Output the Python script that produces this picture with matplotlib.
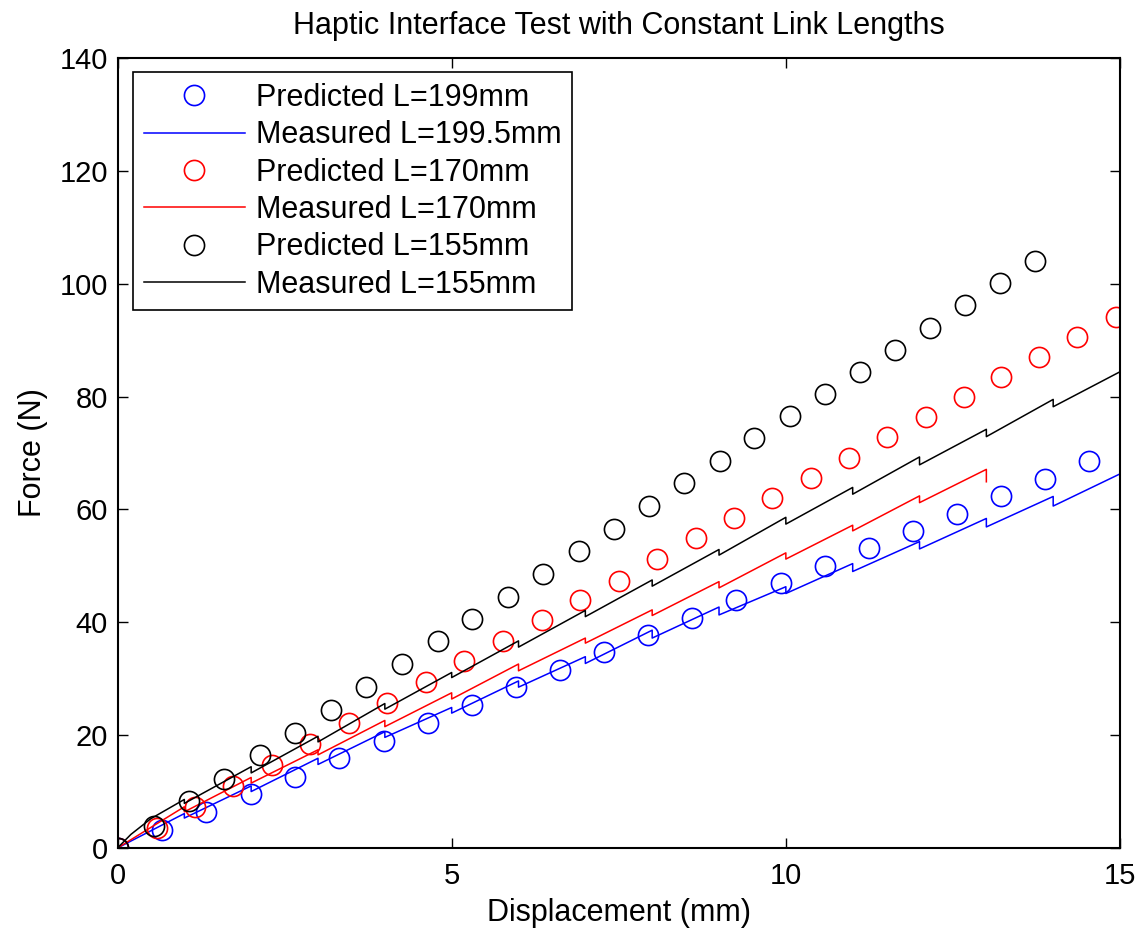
import matplotlib
matplotlib.use('Agg')
import matplotlib.pyplot as plt

plt.rcParams['font.family'] = ['Liberation Sans', 'DejaVu Sans']

# predicted points
pred_x_199 = [0, 0.66, 1.33, 2.00, 2.66, 3.32, 3.98, 4.64, 5.30, 5.96, 6.62, 7.28,
              7.94, 8.60, 9.26, 9.92, 10.59, 11.25, 11.90, 12.56, 13.22, 13.87, 14.53]
pred_y_199 = [0, 3.2, 6.4, 9.5, 12.6, 15.9, 19.0, 22.1, 25.3, 28.5, 31.5, 34.7,
              37.7, 40.8, 44.0, 47.0, 50.0, 53.1, 56.2, 59.2, 62.3, 65.4, 68.5]

pred_x_170 = [0, 0.59, 1.16, 1.73, 2.31, 2.88, 3.46, 4.03, 4.61, 5.19, 5.77, 6.35, 6.92, 7.50,
              8.07, 8.65, 9.22, 9.80, 10.37, 10.95, 11.52, 12.09, 12.66, 13.22, 13.79, 14.36, 14.94]
pred_y_170 = [0, 3.6, 7.3, 11.0, 14.7, 18.4, 22.2, 25.7, 29.4, 33.1, 36.7, 40.4, 44.0, 47.4,
              51.2, 54.9, 58.5, 62.0, 65.6, 69.2, 72.8, 76.3, 80.0, 83.5, 87.1, 90.6, 94.1]

pred_x_155 = [0, 0.54, 1.07, 1.60, 2.13, 2.66, 3.19, 3.72, 4.26, 4.79, 5.31, 5.84, 6.37, 6.90,
              7.43, 7.95, 8.48, 9.01, 9.53, 10.06, 10.58, 11.11, 11.63, 12.16, 12.68, 13.21, 13.73]
pred_y_155 = [0, 3.9, 8.3, 12.3, 16.5, 20.4, 24.5, 28.5, 32.6, 36.6, 40.6, 44.5, 48.6, 52.6,
              56.6, 60.6, 64.6, 68.6, 72.6, 76.5, 80.4, 84.3, 88.3, 92.2, 96.2, 100.1, 104.0]

# measured curves: value just before and just after the small drop at each whole mm
meas_k_199 = [1, 2, 3, 4, 5, 6, 7, 8, 9, 10, 11, 12, 13, 14, 15]
meas_top_199 = [6.1, 11.0, 15.9, 20.6, 24.9, 29.6, 33.9, 38.6, 42.7, 46.3, 50.4, 54.3, 58.4, 62.3, 66.3]
meas_bot_199 = [5.3, 10.0, 14.8, 19.6, 23.9, 28.5, 32.7, 37.2, 41.3, 45.1, 49.0, 53.0, 56.9, 60.6, 65.0]

meas_k_170 = [1, 2, 3, 4, 5, 6, 7, 8, 9, 10, 11, 12, 13]
meas_top_170 = [7.3, 12.5, 17.4, 22.6, 27.5, 32.6, 37.2, 42.2, 47.2, 52.3, 57.2, 62.4, 67.1]
meas_bot_170 = [6.4, 11.5, 16.5, 21.5, 26.4, 31.4, 36.3, 41.2, 46.1, 51.2, 56.2, 61.2, 64.9]

meas_k_155 = [1, 2, 3, 4, 5, 6, 7, 8, 9, 10, 11, 12, 13, 14]
meas_top_155 = [8.6, 14.4, 19.8, 25.6, 31.1, 36.7, 42.1, 47.5, 52.9, 58.6, 63.9, 69.3, 74.2, 79.5]
meas_bot_155 = [7.9, 13.3, 18.8, 24.6, 30.2, 35.6, 41.0, 46.4, 51.9, 57.4, 62.7, 67.9, 72.9, 78.2]


def build(start_x, start_y, ks, tops, bots, end_x=None, end_y=None):
    xs = list(start_x)
    ys = list(start_y)
    for k, t, b in zip(ks, tops, bots):
        xs += [k, k]
        ys += [t, b]
    if end_x is not None:
        xs.append(end_x)
        ys.append(end_y)
    return xs, ys


mx199, my199 = build([0], [0], meas_k_199, meas_top_199, meas_bot_199)
mx170, my170 = build([0], [0], meas_k_170, meas_top_170, meas_bot_170)
mx155, my155 = build([0, 0.2, 0.5], [0, 2.4, 5.2], meas_k_155, meas_top_155, meas_bot_155, 15, 84.4)

fig = plt.figure(figsize=(11.43, 9.30), dpi=100)
ax = fig.add_axes([0.1028, 0.0882, 0.8771, 0.8494])

mk = dict(marker='o', linestyle='none', markersize=14.5, markerfacecolor='none', markeredgewidth=1.2)
ax.plot(pred_x_199, pred_y_199, color='#0000ff', label='Predicted L=199mm', **mk)
ax.plot(mx199, my199, color='#0000ff', lw=1.1, label='Measured L=199.5mm')
ax.plot(pred_x_170, pred_y_170, color='#ff0000', label='Predicted L=170mm', **mk)
ax.plot(mx170, my170, color='#ff0000', lw=1.1, label='Measured L=170mm')
ax.plot(pred_x_155, pred_y_155, color='black', label='Predicted L=155mm', **mk)
ax.plot(mx155, my155, color='black', lw=1.1, label='Measured L=155mm')

ax.set_xlim(0, 15)
ax.set_ylim(0, 140)
ax.set_xticks([0, 5, 10, 15])
ax.set_yticks(range(0, 141, 20))
ax.tick_params(direction='in', length=7, width=1, top=True, right=True, labelsize=21)
ax.tick_params(axis='x', pad=10)
ax.tick_params(axis='y', pad=7)
for s in ax.spines.values():
    s.set_linewidth(1.5)

ax.set_xlabel('Displacement (mm)', fontsize=22, labelpad=6)
ax.set_ylabel('Force (N)', fontsize=22, labelpad=8)
ax.set_title('Haptic Interface Test with Constant Link Lengths', fontsize=22, pad=17)

leg = ax.legend(loc='upper left', bbox_to_anchor=(0.0155, 0.982), fontsize=22,
                handlelength=3.3, handletextpad=0.36, labelspacing=0.24,
                borderpad=0.35, borderaxespad=0, fancybox=False, framealpha=1)
leg.get_frame().set_edgecolor('black')
leg.get_frame().set_linewidth(1.2)

fig.savefig('out.png', dpi=100)
